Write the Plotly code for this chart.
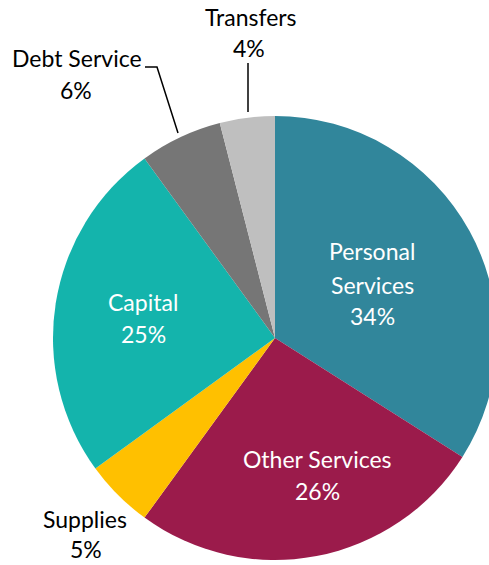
import plotly.graph_objects as go

# ---- data ----
categories = ["Personal Services", "Other Services", "Supplies", "Capital", "Debt Service", "Transfers"]
values = [34, 26, 5, 25, 6, 4]
colors = ["#31869B", "#9B1B4B", "#FFC000", "#14B4AC", "#767676", "#BFBFBF"]

# label lines per category (text, colour)
label_lines = {
    "Personal Services": ["Personal", "Services", "34%"],
    "Other Services": ["Other Services", "26%"],
    "Capital": ["Capital", "25%"],
    "Transfers": ["Transfers", "4%"],
    "Debt Service": ["Debt Service", "6%"],
    "Supplies": ["Supplies", "5%"],
}
inside = {"Personal Services", "Other Services", "Capital"}

# ---- layout geometry (pixels) ----
FW, FH = 500, 565
cx, cy, r = 275, 338, 222

def px(x):
    return x / FW

def py(y):
    return 1 - y / FH

# label anchor positions (pixels, centre of each line)
label_pos = {
    "Personal Services": [(372, 251), (372, 285), (372, 316)],
    "Other Services": [(317.5, 459), (317.5, 491)],
    "Capital": [(143, 302), (143, 334)],
    "Transfers": [(251, 17), (249, 48)],
    "Debt Service": [(77, 58), (76, 90)],
    "Supplies": [(85, 519), (86, 549)],
}

fig = go.Figure(go.Pie(
    labels=categories,
    values=values,
    sort=False,
    direction="clockwise",
    rotation=0,
    marker=dict(colors=colors, line=dict(width=0)),
    textinfo="none",
    hoverinfo="none",
    showlegend=False,
    domain=dict(x=[px(cx - r), px(cx + r)], y=[py(cy + r), py(cy - r)]),
))

FONT = "Lato"
SIZE = 23
annotations = []
for cat in categories:
    col = "white" if cat in inside else "black"
    for text, (x, y) in zip(label_lines[cat], label_pos[cat]):
        annotations.append(dict(
            text=text, x=px(x), y=py(y), xref="paper", yref="paper",
            xanchor="center", yanchor="middle", showarrow=False,
            font=dict(family=FONT, size=SIZE, color=col),
        ))

shapes = [
    dict(type="line", xref="paper", yref="paper",
         x0=px(248), y0=py(63), x1=px(248), y1=py(112),
         line=dict(color="black", width=1.5)),
    dict(type="path", xref="paper", yref="paper",
         path=f"M {px(145)} {py(67)} L {px(157)} {py(67)} L {px(178)} {py(133)}",
         line=dict(color="black", width=1.5)),
]

fig.update_layout(
    width=FW, height=FH,
    margin=dict(l=0, r=0, t=0, b=0),
    paper_bgcolor="white", plot_bgcolor="white",
    annotations=annotations, shapes=shapes,
)

fig.write_html("out.html", config={"displayModeBar": False},
               post_script="document.body.style.overflow='hidden';document.body.style.margin='0';")
